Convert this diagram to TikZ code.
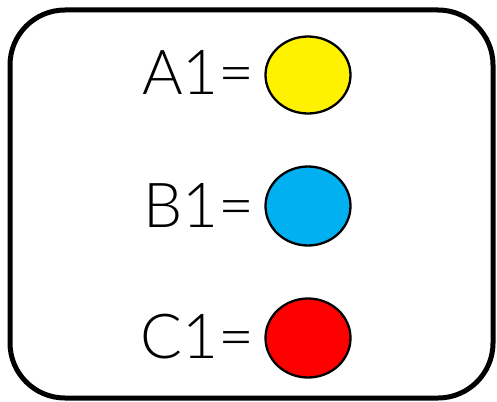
\documentclass[tikz,border=0pt]{standalone}
\usepackage{fontspec}
\usetikzlibrary{shapes.geometric}
\setmainfont{Lato Light}
\begin{document}
\begin{tikzpicture}[x=1pt,y=-1pt,
  frame/.style={draw=black,line width=5pt,rounded corners=55pt},
  lbl/.style={anchor=base east,inner sep=0pt,font=\fontsize{62}{62}\selectfont},
  dot/.style={draw=black,line width=2.3pt,ellipse,minimum width=85pt,minimum height=79pt,inner sep=0pt}]
\useasboundingbox (0,0) rectangle (497,401);
\draw[frame] (10,10) rectangle (493,398);
\node[lbl] (ta) at (255,95) {A1=};
\node[lbl] (tb) at (255,227) {B1=};
\node[lbl] (tc) at (255,358) {C1=};
\node[dot,fill=yellow,minimum height=77pt] (ca) at (308,75) {};
\node[dot,fill={rgb,255:red,0;green,176;blue,240}] (cb) at (308,206) {};
\node[dot,fill=red] (cc) at (308,338) {};
\end{tikzpicture}
\end{document}
